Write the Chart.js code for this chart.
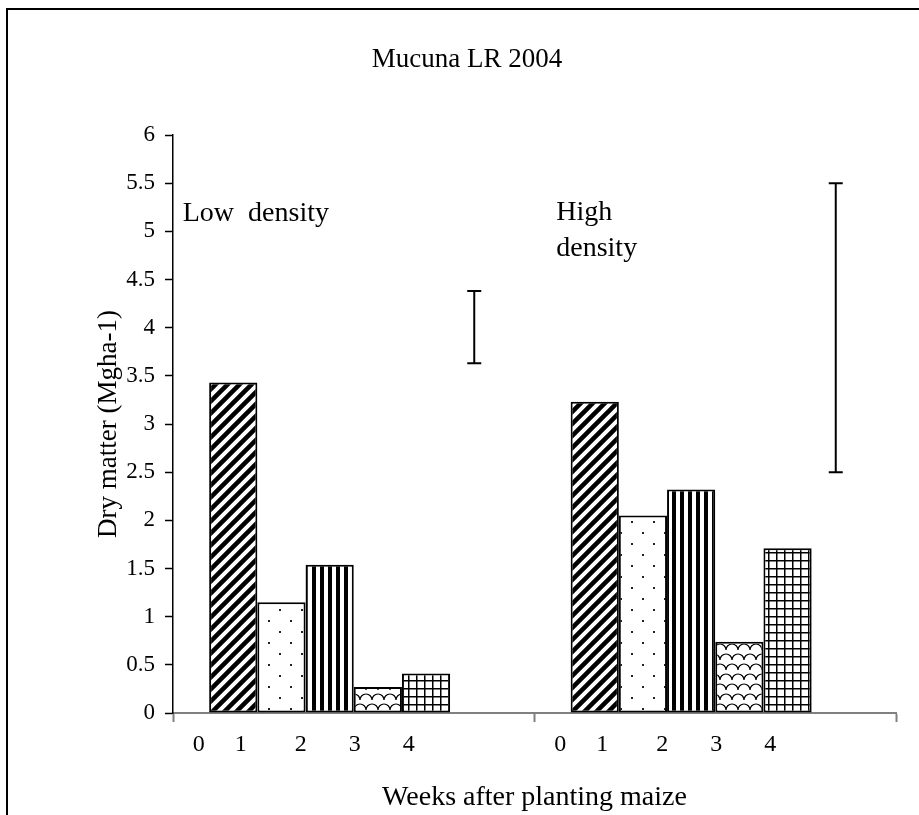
<!doctype html>
<html>
  <head>
    <script src="https://cdn.jsdelivr.net/npm/chart.js"></script>
    <meta name="viewport" content="width=device-width, initial-scale=1" />
    <style>
      html, body {
        margin: 0;
        padding: 0;
        background: #fff;
      }
    </style>
  </head>
  <body>
    <canvas id="dmChart" width="919" height="815"></canvas>
    <script>
      // plant densities (one group of bars each) and the week label under each group
      const groups = ["Low density", "High density"];
      const weekTicks = ["0     1        2       3       4", "0     1        2       3       4"];

      // dry matter (Mg/ha) per week after planting maize
      const week0 = [3.43, 3.23];
      const week1 = [1.15, 2.05];
      const week2 = [1.54, 2.32];
      const week3 = [0.27, 0.74];
      const week4 = [0.41, 1.71];

      // LSD bar ends for each density
      const lsdLow = [3.63, 2.5];
      const lsdHigh = [4.38, 5.5];

      const yTicks = [0, 0.5, 1, 1.5, 2, 2.5, 3, 3.5, 4, 4.5, 5, 5.5, 6];

      const serif = "'Liberation Serif', 'Times New Roman', serif";
      const ctx = document.getElementById("dmChart").getContext("2d");

      function makePattern(w, h, draw) {
        const c = document.createElement("canvas");
        c.width = w;
        c.height = h;
        const g = c.getContext("2d");
        g.fillStyle = "#fff";
        g.fillRect(0, 0, w, h);
        g.fillStyle = "#000";
        g.strokeStyle = "#000";
        draw(g, w, h);
        return ctx.createPattern(c, "repeat");
      }

      const diagPattern = makePattern(12, 12, function (g) {
        g.lineWidth = 4.5;
        g.beginPath();
        g.moveTo(-3, 15); g.lineTo(15, -3);
        g.moveTo(-3, 3); g.lineTo(3, -3);
        g.moveTo(9, 15); g.lineTo(15, 9);
        g.stroke();
      });
      const dotPattern = makePattern(22, 22, function (g) {
        g.fillStyle = "#222";
        g.fillRect(4, 4, 2, 2);
        g.fillRect(15, 15, 2, 2);
      });
      const vertPattern = makePattern(8, 8, function (g) {
        g.fillRect(0, 0, 4, 8);
      });
      const wavePattern = makePattern(24, 20, function (g) {
        g.lineWidth = 1.2;
        g.beginPath();
        [0, 12, 24].forEach(function (cx) {
          g.moveTo(cx + 6, 10);
          g.arc(cx, 10, 6, 0, Math.PI, true);
        });
        [-6, 6, 18, 30].forEach(function (cx) {
          g.moveTo(cx + 6, 20);
          g.arc(cx, 20, 6, 0, Math.PI, true);
          g.moveTo(cx + 6, 0);
          g.arc(cx, 0, 6, 0, Math.PI, true);
        });
        g.stroke();
      });
      const gridPattern = makePattern(8, 8, function (g) {
        g.fillRect(0, 0, 8, 1.5);
        g.fillRect(0, 0, 1.5, 8);
      });

      function barSet(label, data, fill) {
        return {
          label: label,
          data: data,
          backgroundColor: fill,
          borderColor: "#000",
          borderWidth: 2,
          borderSkipped: false,
        };
      }

      const frameAndText = {
        id: "frameAndText",
        beforeDraw(chart) {
          const c = chart.ctx;
          c.save();
          c.fillStyle = "#fff";
          c.fillRect(0, 0, chart.width, chart.height);
          c.strokeStyle = "#000";
          c.lineWidth = 2;
          c.strokeRect(7, 9, 1000, 1000);
          c.restore();
        },
        afterDraw(chart) {
          const c = chart.ctx;
          const x = chart.scales.x;
          const y = chart.scales.y;
          c.save();
          c.fillStyle = "#000";
          c.textBaseline = "middle";
          c.font = "27px " + serif;
          c.textAlign = "center";
          c.fillText("Mucuna LR 2004", 467, 60);
          c.textAlign = "left";
          c.font = "28px " + serif;
          c.fillText("Low  density", x.getPixelForValue(0) - 171, y.getPixelForValue(5.18));
          c.fillText("High", x.getPixelForValue(1) - 159, y.getPixelForValue(5.19));
          c.fillText("density", x.getPixelForValue(1) - 159, y.getPixelForValue(4.82));
          c.restore();
        },
      };

      const lsdBars = {
        id: "lsdBars",
        afterDatasetsDraw(chart) {
          const meta = chart.getDatasetMeta(5);
          const y = chart.scales.y;
          const c = chart.ctx;
          c.save();
          c.strokeStyle = "#000";
          c.lineWidth = 2;
          meta.data.forEach(function (bar, i) {
            const top = y.getPixelForValue(lsdHigh[i]);
            const bot = y.getPixelForValue(lsdLow[i]);
            c.beginPath();
            c.moveTo(bar.x, top);
            c.lineTo(bar.x, bot);
            c.moveTo(bar.x - 7, top);
            c.lineTo(bar.x + 7, top);
            c.moveTo(bar.x - 7, bot);
            c.lineTo(bar.x + 7, bot);
            c.stroke();
          });
          c.restore();
        },
      };

      const dmChart = new Chart(ctx, {
        type: "bar",
        data: {
          labels: weekTicks,
          datasets: [
            barSet("Week 0", week0, diagPattern),
            barSet("Week 1", week1, dotPattern),
            barSet("Week 2", week2, vertPattern),
            barSet("Week 3", week3, wavePattern),
            barSet("Week 4", week4, gridPattern),
            {
              label: "LSD",
              data: lsdLow.map(function (v, i) { return [v, lsdHigh[i]]; }),
              backgroundColor: "rgba(0,0,0,0)",
              borderWidth: 0,
            },
          ],
        },
        options: {
          responsive: false,
          animation: false,
          events: [],
          layout: { padding: { left: 0, right: 23, top: 135, bottom: 0 } },
          datasets: { bar: { categoryPercentage: 0.8, barPercentage: 1.0 } },
          plugins: {
            legend: { display: false },
            tooltip: { enabled: false },
            title: { display: false },
          },
          scales: {
            x: {
              offset: true,
              afterFit: function (s) { s.height = 102; },
              grid: {
                display: true,
                offset: true,
                drawOnChartArea: false,
                tickLength: 9,
                tickColor: "#808080",
                tickWidth: 2,
              },
              border: { color: "#808080", width: 2 },
              ticks: {
                color: "#000",
                font: { family: serif, size: 24 },
                autoSkip: false,
                maxRotation: 0,
                labelOffset: -50,
                padding: 8,
              },
              title: {
                display: true,
                text: "Weeks after planting maize",
                color: "#000",
                font: { family: serif, size: 28 },
                padding: { top: 0, bottom: 1 },
              },
            },
            y: {
              min: 0,
              max: 6,
              afterFit: function (s) { s.width = 173; },
              afterBuildTicks: function (s) {
                s.ticks = yTicks.map(function (v) { return { value: v }; });
              },
              grid: {
                display: true,
                drawOnChartArea: false,
                tickLength: 8,
                tickColor: "#000",
                tickWidth: 1.5,
              },
              border: { color: "#000", width: 1.5 },
              ticks: {
                color: "#000",
                font: { family: serif, size: 23 },
                padding: 10,
                callback: function (v) { return String(v); },
              },
              title: {
                display: true,
                text: "Dry matter (Mgha-1)",
                color: "#000",
                font: { family: serif, size: 27 },
                padding: { top: 93, bottom: 0 },
              },
            },
          },
        },
        plugins: [frameAndText, lsdBars],
      });
    </script>
  </body>
</html>
